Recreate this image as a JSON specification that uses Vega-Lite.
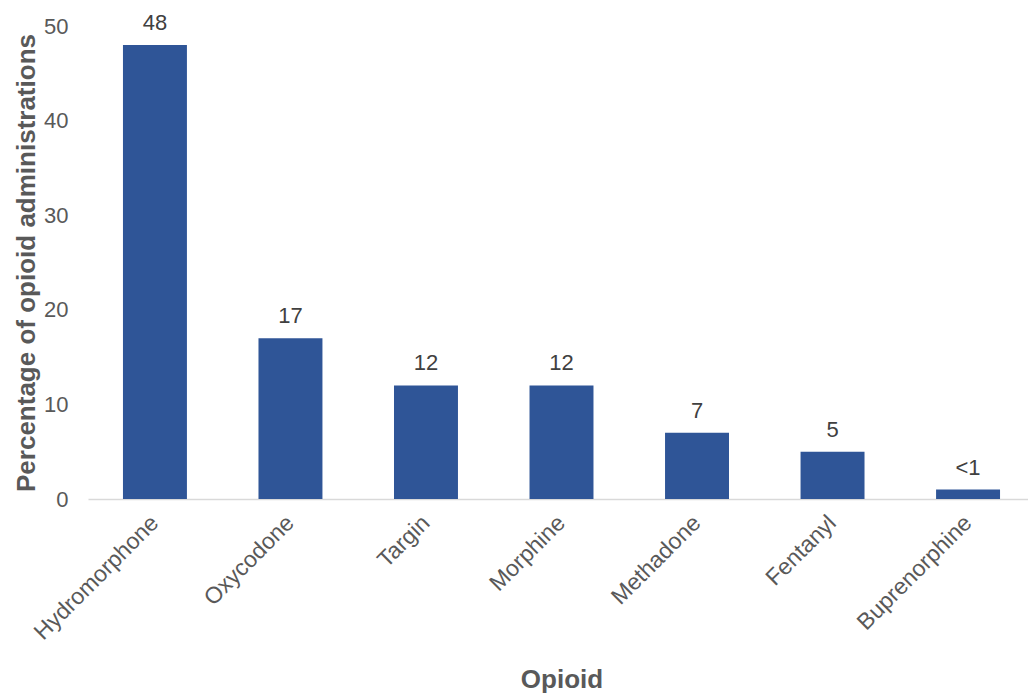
{
  "$schema": "https://vega.github.io/schema/vega-lite/v6.json",
  "autosize": {"type": "none"},
  "padding": {"left": 88, "top": 26, "right": 0, "bottom": 196},
  "width": 940,
  "height": 473,
  "background": "white",
  "config": {"view": {"stroke": null}, "font": "Liberation Sans"},
  "data": {"values": [
    {"opioid": "Hydromorphone", "pct": 48, "label": "48"},
    {"opioid": "Oxycodone", "pct": 17, "label": "17"},
    {"opioid": "Targin", "pct": 12, "label": "12"},
    {"opioid": "Morphine", "pct": 12, "label": "12"},
    {"opioid": "Methadone", "pct": 7, "label": "7"},
    {"opioid": "Fentanyl", "pct": 5, "label": "5"},
    {"opioid": "Buprenorphine", "pct": 1, "label": "<1"}
  ]},
  "encoding": {
    "x": {"field": "opioid", "type": "nominal", "sort": null,
      "scale": {"paddingInner": 0.528, "paddingOuter": 0.258, "range": [0, 947]},
      "axis": {"title": "Opioid", "labelAngle": -45, "labelAlign": "right", "labelBaseline": "middle",
        "labelFontSize": 23, "labelColor": "#595959", "labelPadding": 20, "ticks": false,
        "domainColor": "#d9d9d9", "domainWidth": 1.5,
        "titleFontSize": 26, "titleFontWeight": "bold", "titleColor": "#595959", "titlePadding": 22}},
    "y": {"field": "pct", "type": "quantitative",
      "scale": {"domain": [0, 50], "nice": false},
      "axis": {"title": "Percentage of opioid administrations", "values": [0, 10, 20, 30, 40, 50],
        "grid": false, "domain": false, "ticks": false, "labelFontSize": 22, "labelColor": "#595959",
        "labelPadding": 20, "titleFontSize": 26, "titleFontWeight": "bold", "titleColor": "#595959", "titlePadding": 4}}
  },
  "layer": [
    {"mark": {"type": "bar", "color": "#2F5597"}},
    {"mark": {"type": "text", "baseline": "bottom", "dy": -10, "fontSize": 22, "color": "#404040"},
     "encoding": {"text": {"field": "label"}}}
  ]
}
